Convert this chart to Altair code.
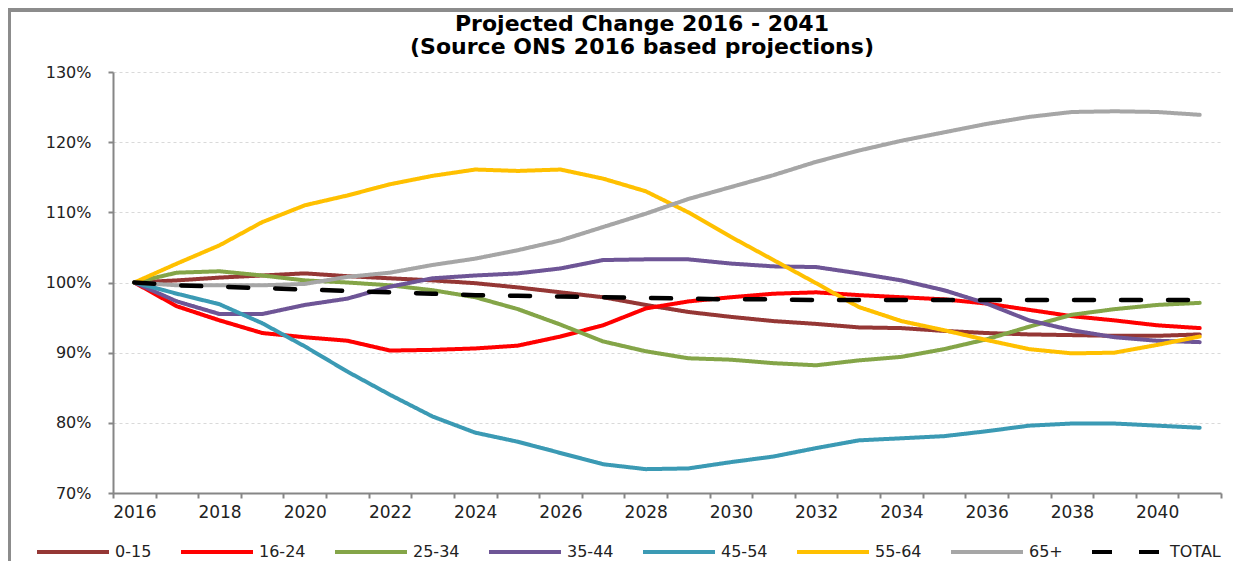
import altair as alt
import pandas as pd

years = list(range(2016, 2042))
series_names = ["0-15", "16-24", "25-34", "35-44", "45-54", "55-64", "65+", "TOTAL"]
series_colors = ["#953735", "#FF0000", "#84A548", "#6E5596", "#3B9AB4", "#FFC000", "#A6A6A6", "#000000"]

age_0_15 = [100, 100.3, 100.7, 101.0, 101.3, 100.9, 100.6, 100.3, 99.9, 99.3, 98.6, 97.9, 96.8,
            95.8, 95.1, 94.5, 94.1, 93.6, 93.5, 93.1, 92.8, 92.6, 92.5, 92.4, 92.4, 92.6]
age_16_24 = [100, 96.6, 94.6, 92.8, 92.2, 91.7, 90.3, 90.4, 90.6, 91.0, 92.3, 93.9, 96.3,
             97.3, 97.9, 98.4, 98.6, 98.2, 97.9, 97.6, 97.0, 96.1, 95.2, 94.6, 93.9, 93.5]
age_25_34 = [100, 101.4, 101.6, 101.0, 100.3, 100.0, 99.6, 98.9, 97.9, 96.2, 94.0, 91.6, 90.2,
             89.2, 89.0, 88.5, 88.2, 88.9, 89.4, 90.5, 91.9, 93.7, 95.4, 96.2, 96.8, 97.1]
age_35_44 = [100, 97.3, 95.5, 95.5, 96.8, 97.7, 99.4, 100.6, 101.0, 101.3, 102.0, 103.2, 103.3,
             103.3, 102.7, 102.3, 102.2, 101.3, 100.3, 98.9, 97.0, 94.6, 93.2, 92.2, 91.7, 91.5]
age_45_54 = [100, 98.4, 96.9, 94.2, 90.9, 87.3, 84.0, 80.9, 78.6, 77.3, 75.7, 74.1, 73.4,
             73.5, 74.4, 75.2, 76.4, 77.5, 77.8, 78.1, 78.8, 79.6, 79.9, 79.9, 79.6, 79.3]
age_55_64 = [100, 102.7, 105.3, 108.6, 111.0, 112.4, 114.0, 115.2, 116.1, 115.9, 116.1, 114.8, 113.0,
             110.0, 106.5, 103.2, 99.9, 96.5, 94.5, 93.2, 91.8, 90.5, 89.9, 90.0, 91.1, 92.3]
age_65_plus = [100, 99.6, 99.6, 99.6, 99.8, 100.8, 101.4, 102.5, 103.4, 104.6, 106.0, 107.9, 109.8,
               111.9, 113.6, 115.3, 117.2, 118.8, 120.2, 121.4, 122.6, 123.6, 124.3, 124.4, 124.3, 123.9]
total = [100, 99.6, 99.4, 99.2, 99.0, 98.8, 98.6, 98.4, 98.2, 98.1, 98.0, 97.9, 97.8,
         97.7, 97.6, 97.6, 97.5, 97.5, 97.5, 97.5, 97.5, 97.5, 97.5, 97.5, 97.5, 97.5]

all_values = [age_0_15, age_16_24, age_25_34, age_35_44, age_45_54, age_55_64, age_65_plus, total]

rows = []
for name, vals in zip(series_names, all_values):
    for yr, v in zip(years, vals):
        rows.append({"year": yr, "series": name, "value": v})
df = pd.DataFrame(rows)

dash_range = [[1, 0]] * 7 + [[20, 27]]

x_enc = alt.X(
    "year:O",
    bandPosition=0.5,
    scale=alt.Scale(type="band", paddingInner=0, paddingOuter=0),
    axis=alt.Axis(
        title=None,
        tickBand="extent",
        labelAngle=0,
        labelExpr="datum.value % 2 == 0 ? datum.label : ''",
        labelPadding=6,
        labelFontSize=17,
        grid=False,
    ),
)
y_enc = alt.Y(
    "value:Q",
    scale=alt.Scale(domain=[70, 130], nice=False, zero=False),
    axis=alt.Axis(
        title=None,
        values=[70, 80, 90, 100, 110, 120, 130],
        labelExpr="datum.value + '%'",
        labelPadding=17,
        labelFontSize=16,
        grid=True,
        gridDash=[3, 3],
        gridColor="#D9D9D9",
        gridWidth=1,
    ),
)
color_enc = alt.Color(
    "series:N",
    scale=alt.Scale(domain=series_names, range=series_colors),
    title=None,
)
dash_enc = alt.StrokeDash(
    "series:N",
    scale=alt.Scale(domain=series_names, range=dash_range),
    title=None,
)

base = alt.Chart(df)
lines = base.transform_filter("datum.series != 'TOTAL'").mark_line(
    strokeWidth=4, strokeCap="round", strokeJoin="round"
).encode(x=x_enc, y=y_enc, color=color_enc, strokeDash=dash_enc)

total_line = base.transform_filter("datum.series == 'TOTAL'").mark_line(
    strokeWidth=4.5, strokeCap="round"
).encode(x=x_enc, y=y_enc, color=color_enc, strokeDash=dash_enc)

frame_top = alt.Chart(df).mark_rule(color="#8C8C8C", strokeWidth=2.5).encode(
    x=alt.value(-105), x2=alt.value(1130), y=alt.value(-62)
)
frame_left = alt.Chart(df).mark_rule(color="#8C8C8C", strokeWidth=2.5).encode(
    x=alt.value(-104), y=alt.value(-63), y2=alt.value(520)
)

chart = alt.layer(lines, total_line, frame_top, frame_left).properties(
    width=1108,
    height=421,
    autosize=alt.AutoSizeParams(type="none"),
    padding={"left": 105, "top": 64, "right": 12, "bottom": 68},
    title=alt.TitleParams(
        text=["Projected Change 2016 - 2041", "(Source ONS  2016 based projections)"],
        font="DejaVu Sans",
        fontSize=22,
        fontWeight="bold",
        color="#000000",
        anchor="middle",
        dx=-25,
        dy=90,
        offset=17,
        lineHeight=23,
        baseline="bottom",
    ),
).configure_view(
    stroke=None
).configure_axis(
    domainColor="#868686",
    domainWidth=2,
    tickColor="#868686",
    tickWidth=2,
    tickSize=5,
    labelFont="DejaVu Sans",
    labelColor="#222222",
).configure_legend(
    orient="none",
    legendX=-78,
    legendY=442,
    direction="horizontal",
    columns=8,
    symbolType="stroke",
    symbolSize=5184,
    symbolStrokeWidth=4,
    labelFont="DejaVu Sans",
    labelFontSize=16,
    labelColor="#222222",
    labelOffset=4,
    columnPadding=21,
    padding=0,
)

chart.save("out.html", embed_options={"renderer": "svg", "actions": False})
